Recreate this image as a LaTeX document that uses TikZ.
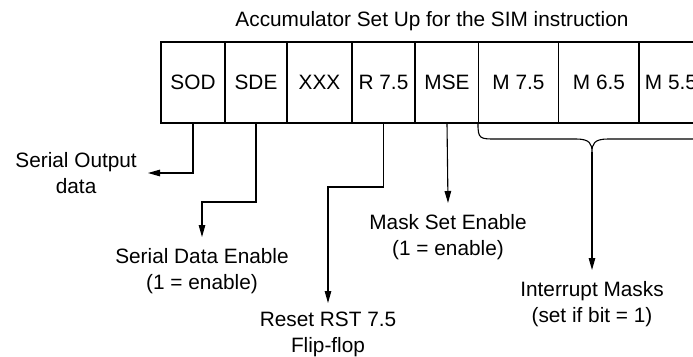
\documentclass[tikz,border=0pt]{standalone}
\usepackage{fontspec}
\setmainfont{Liberation Sans}
\usetikzlibrary{arrows.meta}
\begin{document}
\begin{tikzpicture}[x=1pt,y=-1pt,
  every node/.style={font=\fontsize{20.8}{26}\selectfont},
  cell/.style={draw, line width=1.1pt, minimum height=81pt, inner sep=0pt},
  lbl/.style={align=center, inner sep=11pt},
  wire/.style={line width=1.1pt},
  arr/.style={wire, -{Triangle[length=12pt,width=6.5pt]}}]
  % page frame
  \clip (0,0) rectangle (693,356);
  \useasboundingbox (0,0) rectangle (693,356);

  \node (title) at (432,21) {Accumulator Set Up for the SIM instruction};

  % accumulator bits
  \node[cell, minimum width=64pt] (sod) at (193,82.5) {SOD};
  \node[cell, minimum width=62pt] (sde) at (256,82.5) {SDE};
  \node[cell, minimum width=65pt] (xxx) at (319.5,82.5) {XXX};
  \node[cell, minimum width=63pt] (rst) at (383.5,82.5) {R 7.5};
  \node[cell, minimum width=63pt] (mse) at (447,82.5) {MSE};
  \node[cell, minimum width=80pt] (m75) at (518.5,82.5) {M 7.5};
  \node[cell, minimum width=81pt] (m65) at (599,82.5) {M 6.5};
  \node[cell, minimum width=64pt] (m55) at (671,82.5) {M 5.5};

  % bend heights
  \coordinate (sodbend) at (0,173);
  \coordinate (sdebend) at (0,202);
  \coordinate (rstbend) at (0,187);
  \coordinate (bracetip) at (592,152);

  % labels
  \node[lbl, anchor=east] (sodlbl) at (148,173) {Serial Output\\data};
  \node[lbl, anchor=north] (sdelbl) at (202,237) {Serial Data Enable\\(1 = enable)};
  \node[lbl, anchor=north, inner ysep=8.5pt] (rstlbl) at (328,303)
    {\fontsize{20.8}{25}\selectfont Reset RST 7.5\\Flip-flop};
  \node[lbl, anchor=north] (mselbl) at (448,203) {Mask Set Enable\\(1 = enable)};
  \node[lbl, anchor=north] (intlbl) at (592,270) {Interrupt Masks\\(set if bit = 1)};

  % connectors
  \draw[arr] (sod.south) -- (sod.south |- sodbend) -- (sodlbl.east);
  \draw[arr] (sde.south) -- (sde.south |- sdebend) -| (sdelbl.north);
  \draw[arr] (rst.south) -- (rst.south |- rstbend) -| (rstlbl.north);
  \draw[arr] (mse.south) -- (mselbl.north);

  % brace under the mask bits
  \draw[wire] (m75.south west)
    .. controls (478,139) and (480,139) .. (496,139) -- (576,139)
    .. controls (590,139) and (592,144) .. (bracetip)
    .. controls (592,144) and (594,139) .. (608,139) -- (688,139)
    .. controls (704,139) and (706,139) .. (706,123);
  \draw[arr] (bracetip) -- (intlbl.north);
\end{tikzpicture}
\end{document}
